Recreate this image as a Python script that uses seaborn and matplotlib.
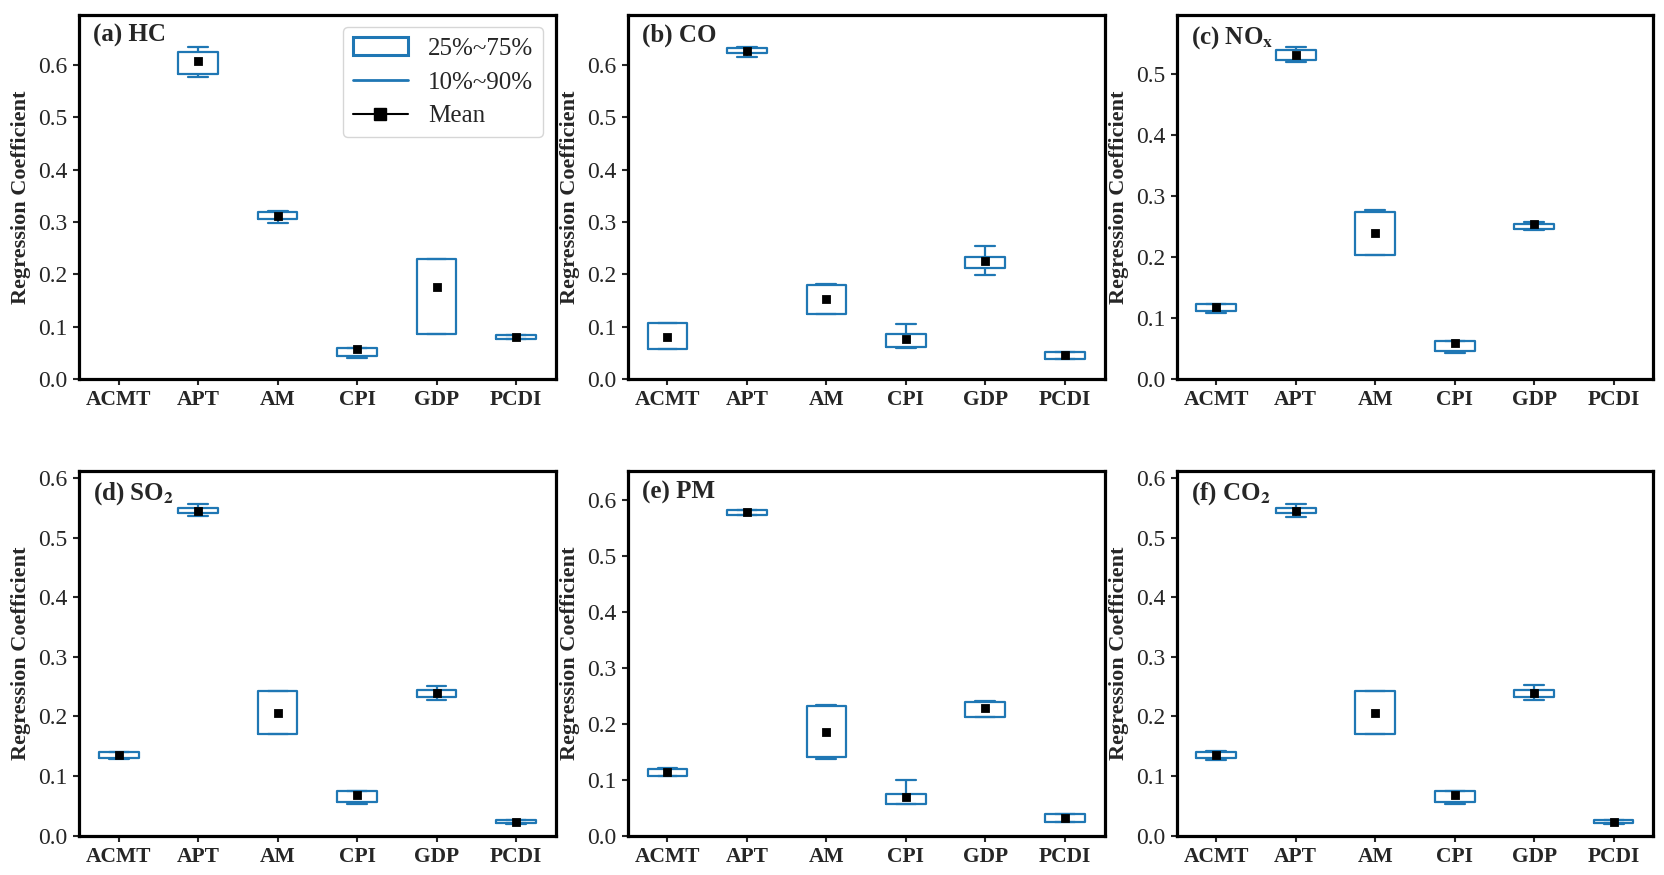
import numpy as np
import pandas as pd
import seaborn as sns
import matplotlib.pyplot as plt
from matplotlib.patches import Patch
from matplotlib.lines import Line2D

nan = np.nan
cats = ['ACMT', 'APT', 'AM', 'CPI', 'GDP', 'PCDI']

# HC
hc_p10 = [nan, 0.578, 0.298, 0.040, 0.086, 0.077]
hc_q25 = [nan, 0.583, 0.306, 0.0446, 0.086, 0.077]
hc_q75 = [nan, 0.625, 0.319, 0.0586, 0.229, 0.085]
hc_p90 = [nan, 0.634, 0.322, 0.0586, 0.229, 0.085]
hc_mean = [nan, 0.608, 0.311, 0.057, 0.176, 0.080]

# CO
co_p10 = [0.057, 0.615, 0.124, 0.0605, 0.199, 0.039]
co_q25 = [0.057, 0.623, 0.124, 0.0624, 0.212, 0.039]
co_q75 = [0.107, 0.632, 0.180, 0.086, 0.234, 0.052]
co_p90 = [0.108, 0.635, 0.182, 0.105, 0.255, 0.052]
co_mean = [0.081, 0.627, 0.153, 0.076, 0.226, 0.046]

# NOx
nox_p10 = [0.109, 0.520, 0.203, 0.0426, 0.245, nan]
nox_q25 = [0.112, 0.523, 0.203, 0.0454, 0.2465, nan]
nox_q75 = [0.123, 0.539, 0.274, 0.0623, 0.254, nan]
nox_p90 = [0.124, 0.544, 0.2765, 0.0623, 0.257, nan]
nox_mean = [0.1175, 0.532, 0.240, 0.0585, 0.2535, nan]

# SO2
so2_p10 = [0.128, 0.536, 0.170, 0.0536, 0.2274, 0.020]
so2_q25 = [0.130, 0.541, 0.170, 0.057, 0.2324, 0.021]
so2_q75 = [0.1397, 0.549, 0.242, 0.0743, 0.2447, 0.026]
so2_p90 = [0.141, 0.556, 0.242, 0.0743, 0.2514, 0.027]
so2_mean = [0.1346, 0.545, 0.2056, 0.0687, 0.2397, 0.0235]

# PM
pm_p10 = [0.106, 0.574, 0.1375, 0.056, 0.2125, 0.025]
pm_q25 = [0.107, 0.574, 0.140, 0.056, 0.2125, 0.025]
pm_q75 = [0.119, 0.582, 0.232, 0.075, 0.239, 0.038]
pm_p90 = [0.121, 0.583, 0.234, 0.100, 0.241, 0.038]
pm_mean = [0.113, 0.580, 0.186, 0.069, 0.228, 0.032]

# CO2
co2_p10 = [0.127, 0.535, 0.170, 0.053, 0.227, 0.020]
co2_q25 = [0.1296, 0.541, 0.170, 0.0564, 0.232, 0.021]
co2_q75 = [0.1397, 0.549, 0.242, 0.0749, 0.245, 0.026]
co2_p90 = [0.142, 0.556, 0.242, 0.0749, 0.252, 0.027]
co2_mean = [0.1346, 0.545, 0.2056, 0.068, 0.239, 0.0235]

panels = [
    (r'(a) HC', hc_p10, hc_q25, hc_q75, hc_p90, hc_mean, 0.696, np.arange(0, 0.61, 0.1)),
    (r'(b) CO', co_p10, co_q25, co_q75, co_p90, co_mean, 0.696, np.arange(0, 0.61, 0.1)),
    (r'(c) NO$_\mathbf{x}$', nox_p10, nox_q25, nox_q75, nox_p90, nox_mean, 0.597, np.arange(0, 0.51, 0.1)),
    (r'(d) SO$_\mathbf{2}$', so2_p10, so2_q25, so2_q75, so2_p90, so2_mean, 0.611, np.arange(0, 0.61, 0.1)),
    (r'(e) PM', pm_p10, pm_q25, pm_q75, pm_p90, pm_mean, 0.652, np.arange(0, 0.61, 0.1)),
    (r'(f) CO$_\mathbf{2}$', co2_p10, co2_q25, co2_q75, co2_p90, co2_mean, 0.611, np.arange(0, 0.61, 0.1)),
]

sns.set_style('ticks')
plt.rcParams['font.family'] = ['Liberation Serif', 'DejaVu Serif']
plt.rcParams['mathtext.fontset'] = 'stix'

blue = '#1f77b4'

fig, axes = plt.subplots(2, 3, figsize=(16.65, 8.75), dpi=100)
plt.subplots_adjust(left=0.0474, right=0.993, top=0.983, bottom=0.045, wspace=0.151, hspace=0.253)

for ax, (title, p10, q25, q75, p90, mean, ytop, yt) in zip(axes.flat, panels):
    rows = []
    for i, c in enumerate(cats):
        # five-number summary per factor (mean sits inside the box, median hidden)
        for v in [p10[i], q25[i], mean[i], q75[i], p90[i]]:
            rows.append({'cat': c, 'val': v})
    df = pd.DataFrame(rows)
    mdf = pd.DataFrame({'cat': cats, 'mean': mean})

    sns.boxplot(data=df, x='cat', y='val', order=cats, ax=ax, width=0.5,
                whis=(0, 100), showfliers=False, fill=False, color=blue,
                linewidth=1.6, medianprops={'linewidth': 0})
    sns.pointplot(data=mdf, x='cat', y='mean', order=cats, ax=ax, color='black',
                  markers='s', linestyles='none', errorbar=None, markersize=5, zorder=5)

    ax.set_xlim(-0.5, 5.5)
    ax.set_ylim(0, ytop)
    ax.set_yticks(yt)
    ax.set_yticklabels([f'{t:.1f}' for t in yt], fontsize=17)
    ax.set_xticks(range(len(cats)))
    ax.set_xticklabels(cats, fontsize=15.5, fontweight='bold')
    ax.set_xlabel('')
    ax.set_ylabel('Regression Coefficient', fontsize=16, fontweight='bold', labelpad=5)
    ax.tick_params(direction='out', length=4.5, width=1.5)
    for s in ax.spines.values():
        s.set_linewidth(2.3)
        s.set_color('black')
    ax.text(0.03, 0.975, title, transform=ax.transAxes, ha='left', va='top',
            fontsize=18, fontweight='bold')

handles = [
    Patch(facecolor='white', edgecolor=blue, linewidth=2.2),
    Line2D([0], [0], color=blue, linewidth=2),
    Line2D([0], [0], color='black', linewidth=1.5, marker='s', markersize=8),
]
axes[0, 0].legend(handles, ['25%~75%', '10%~90%', 'Mean'], loc='upper right',
                  fontsize=18, handlelength=2.2, labelspacing=0.45)

fig.savefig('out.png', dpi=100)
